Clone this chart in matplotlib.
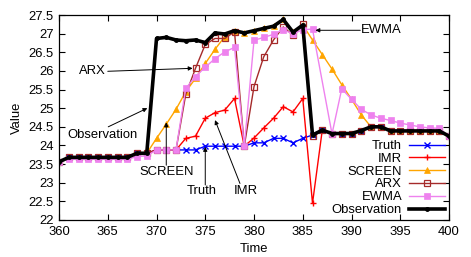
import matplotlib

matplotlib.use("Agg")
import matplotlib.pyplot as plt
import numpy as np
from matplotlib.ticker import FuncFormatter, MultipleLocator

plt.rcParams["font.family"] = ["Liberation Sans", "DejaVu Sans"]
plt.rcParams["font.size"] = 9.4

time = np.arange(360, 401)

observation = [
    23.56, 23.68, 23.68, 23.68, 23.68, 23.68, 23.68, 23.68, 23.79, 23.79,
    26.87, 26.90, 26.83, 26.81, 26.83, 26.76, 27.02, 26.99, 27.08, 27.02,
    27.08, 27.14, 27.20, 27.38, 27.04, 27.23, 24.28, 24.41, 24.32, 24.32,
    24.32, 24.40, 24.50, 24.50, 24.39, 24.39, 24.39, 24.39, 24.39, 24.39,
    24.25,
]
truth = [
    23.56, 23.68, 23.68, 23.68, 23.68, 23.68, 23.68, 23.68, 23.79, 23.79,
    23.88, 23.88, 23.88, 23.88, 23.88, 23.98, 23.98, 23.98, 23.98, 23.98,
    24.07, 24.07, 24.19, 24.19, 24.07, 24.19, 24.28, 24.41, 24.32, 24.32,
    24.32, 24.40, 24.50, 24.50, 24.39, 24.39, 24.39, 24.39, 24.39, 24.39,
    24.25,
]
imr = [
    23.56, 23.68, 23.68, 23.68, 23.68, 23.68, 23.68, 23.68, 23.79, 23.79,
    23.88, 23.88, 23.88, 24.19, 24.25, 24.73, 24.88, 24.95, 25.26, 23.98,
    24.20, 24.47, 24.73, 25.04, 24.90, 25.26, 22.45, 24.41, 24.32, 24.32,
    24.32, 24.40, 24.50, 24.50, 24.39, 24.39, 24.39, 24.39, 24.39, 24.39,
    24.25,
]
screen = [
    23.56, 23.68, 23.68, 23.68, 23.68, 23.68, 23.68, 23.68, 23.79, 23.79,
    24.19, 24.57, 24.97, 25.44, 25.80, 26.20, 26.58, 26.92, 27.08, 27.02,
    27.08, 27.14, 27.20, 27.38, 27.04, 27.23, 26.83, 26.44, 26.05, 25.63,
    25.24, 24.82, 24.50, 24.50, 24.39, 24.39, 24.39, 24.39, 24.39, 24.39,
    24.25,
]
arx = [
    23.56, 23.68, 23.68, 23.68, 23.68, 23.68, 23.68, 23.68, 23.79, 23.79,
    23.88, 23.88, 23.88, 25.37, 26.07, 26.71, 26.87, 26.87, 27.05, 23.98,
    25.58, 26.38, 26.83, 27.18, 26.96, 27.25, 24.25, 24.41, 24.32, 24.32,
    24.32, 24.40, 24.50, 24.50, 24.39, 24.39, 24.39, 24.39, 24.39, 24.39,
    24.25,
]
# EWMA has no point at 387
ewma_time = [t for t in range(360, 401) if t != 387]
ewma = [
    23.55, 23.63, 23.63, 23.63, 23.63, 23.63, 23.63, 23.63, 23.70, 23.72,
    23.88, 23.88, 23.88, 25.53, 25.85, 26.10, 26.33, 26.51, 26.63, 23.98,
    26.82, 26.90, 26.98, 27.11, 26.99, 27.11, 27.12, 24.31, 25.52,
    25.24, 24.97, 24.82, 24.73, 24.67, 24.60, 24.55, 24.50, 24.47, 24.46,
    24.25,
]

fig = plt.figure(figsize=(4.71, 2.57), dpi=100)
ax = fig.add_axes([0.1253, 0.144, 0.828, 0.7976])

ax.plot(time, truth, color="#0000ff", lw=1.0, marker="x", ms=4, mew=1.0,
        label="Truth")
ax.plot(time, imr, color="#ff0000", lw=1.0, marker="+", ms=5, mew=1.0,
        label="IMR")
ax.plot(time, screen, color="#ffa500", lw=1.0, marker="^", ms=4.5, mew=0.5,
        label="SCREEN")
ax.plot(time, arx, color="#a52a2a", lw=1.0, marker="s", ms=4.5, mew=0.9,
        mfc="none", label="ARX")
ax.plot(ewma_time, ewma, color="#ee82ee", lw=1.0, marker="s", ms=4.5,
        mew=0.5, label="EWMA")
ax.plot(time, observation, color="black", lw=2.6, marker="o", ms=2.5,
        label="Observation")

ax.set_xlim(360, 400)
ax.set_ylim(22, 27.5)
ax.xaxis.set_major_locator(MultipleLocator(5))
ax.yaxis.set_major_locator(MultipleLocator(0.5))
ax.yaxis.set_major_formatter(FuncFormatter(lambda v, _: f"{v:g}"))
ax.tick_params(direction="in", length=4, width=0.8, top=True, right=True,
               pad=4)
for spine in ax.spines.values():
    spine.set_linewidth(0.9)
ax.set_xlabel("Time", labelpad=4)
ax.set_ylabel("Value", labelpad=4)

arrow = dict(arrowstyle="-|>", color="black", lw=0.7, mutation_scale=6,
             shrinkA=0, shrinkB=0)
notes = [
    ((365.0, 25.99), (373.7, 26.07)),
    ((365.05, 24.5), (369.06, 25.0)),
    ((371.0, 23.47), (371.0, 24.62)),
    ((375.0, 22.94), (375.0, 23.96)),
    ((378.56, 22.98), (376.0, 24.68)),
    ((390.9, 27.09), (386.3, 27.09)),
]
for tail, head in notes:
    ax.annotate("", xy=head, xytext=tail, arrowprops=arrow)

ax.text(364.75, 26.0, "ARX", ha="right", va="center")
ax.text(364.5, 24.28, "Observation", ha="center", va="center")
ax.text(371.0, 23.3, "SCREEN", ha="center", va="center")
ax.text(374.6, 22.79, "Truth", ha="center", va="center")
ax.text(379.2, 22.79, "IMR", ha="center", va="center")
ax.text(391.0, 27.09, "EWMA", ha="left", va="center")

ax.legend(loc="lower right", frameon=False, markerfirst=False,
          handlelength=2.8, handletextpad=0.5, labelspacing=0.05,
          borderaxespad=0.2, borderpad=0.1)

fig.savefig("out.png", dpi=100)
